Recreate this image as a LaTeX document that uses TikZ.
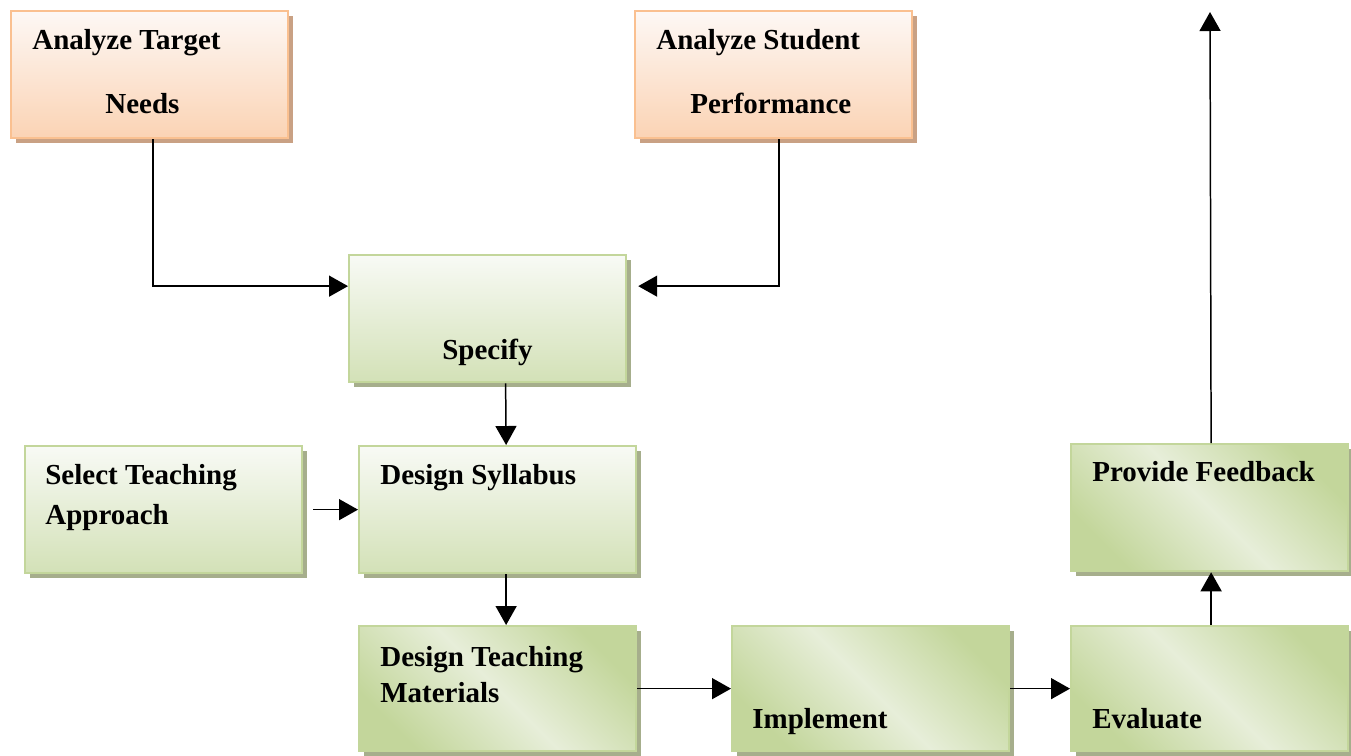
\documentclass[tikz,border=0pt]{standalone}
\usepackage{fontspec}
\setmainfont{Liberation Serif}
\usepackage{xcolor}
\usetikzlibrary{arrows.meta, positioning, shadows}

\definecolor{grnline}{HTML}{C3D69B}
\definecolor{grndark}{HTML}{C3D69B}
\definecolor{grnlight}{HTML}{E7EED9}
\definecolor{grntop}{HTML}{F8FAF5}
\definecolor{grnbot}{HTML}{D3E1B7}
\definecolor{grnshadow}{HTML}{A6AE8C}
\definecolor{orgline}{HTML}{FAC090}
\definecolor{orgtop}{HTML}{FDF8F5}
\definecolor{orgbot}{HTML}{FBD3B4}
\definecolor{orgshadow}{HTML}{C9A184}

\begin{document}
\begin{tikzpicture}[
  x=0.02cm, y=-0.02cm,
  box/.style={draw, rectangle, line width=1.3pt, anchor=north west,
    minimum width=5.54cm, minimum height=2.54cm, inner sep=0pt},
  orgbox/.style={box, draw=orgline, top color=orgtop, bottom color=orgbot,
    drop shadow={shadow xshift=0.09cm, shadow yshift=-0.09cm, fill=orgshadow, opacity=1}},
  grnbox/.style={box, draw=grnline, top color=grntop, bottom color=grnbot,
    drop shadow={shadow xshift=0.09cm, shadow yshift=-0.09cm, fill=grnshadow, opacity=1}},
  grndiag/.style={box, draw=grnline, top color=grndark, bottom color=grndark,
    middle color=grnlight, shading angle=-45,
    drop shadow={shadow xshift=0.09cm, shadow yshift=-0.09cm, fill=grnshadow, opacity=1}},
  txt/.style={anchor=base west, inner sep=0pt, font=\fontsize{16.5}{20}\selectfont\bfseries},
  arrow/.style={-{Triangle[length=0.38cm, width=0.42cm]}, line width=0.85pt}
]
\useasboundingbox (0,0) rectangle (1351,755);

% boxes
\node[orgbox] (target) at (10,10) {};
\node[orgbox] (student) at (634,10) {};
\node[grnbox] (specify) at (348,254) {};
\node[grnbox] (select) at (24,445) {};
\node[grnbox] (syllabus) at (358,445) {};
\node[grndiag, minimum height=2.5cm] (materials) at (358,625) {};
\node[grndiag, minimum height=2.5cm] (implement) at (731,625) {};
\node[grndiag, minimum height=2.5cm] (evaluate) at (1070,625) {};
\node[grndiag] (feedback) at (1070,443) {};

% labels
\node[txt] (targetA) at (32,49) {Analyze Target};
\node[txt] (targetB) at (105,113) {Needs};
\node[txt] (studentA) at (656,49) {Analyze Student};
\node[txt] (studentB) at (690,113) {Performance};
\node[txt] (specifyT) at (442,359) {Specify};
\node[txt] (selectA) at (45,484) {Select Teaching};
\node[txt] (selectB) at (45,524) {Approach};
\node[txt] (syllabusT) at (380,484) {Design Syllabus};
\node[txt] (materialsA) at (380,666) {Design Teaching};
\node[txt] (materialsB) at (380,702) {Materials};
\node[txt] (implementT) at (752,728) {Implement};
\node[txt] (evaluateT) at (1092,728) {Evaluate};
\node[txt] (feedbackT) at (1092,481) {Provide Feedback};

\coordinate (out) at (1210,12);

% connectors
\draw[arrow] ([xshift=0.07cm]target.south) |- ([yshift=0.65cm]specify.west);
\draw[arrow] ([xshift=0.11cm]student.south) |- ([xshift=0.22cm, yshift=0.65cm]specify.east);
\draw[arrow] ([xshift=0.36cm]specify.south) -- ([xshift=0.17cm]syllabus.north);
\draw[arrow] ([xshift=0.2cm]select.east) -- (syllabus.west);
\draw[arrow] ([xshift=0.17cm]syllabus.south) -- ([xshift=0.17cm]materials.north);
\draw[arrow] (materials.east) -- (implement.west);
\draw[arrow] (implement.east) -- (evaluate.west);
\draw[arrow] ([xshift=0.03cm]evaluate.north) -- ([xshift=0.03cm]feedback.south);
\draw[arrow] ([xshift=0.03cm]feedback.north) -- (out);
\end{tikzpicture}
\end{document}
